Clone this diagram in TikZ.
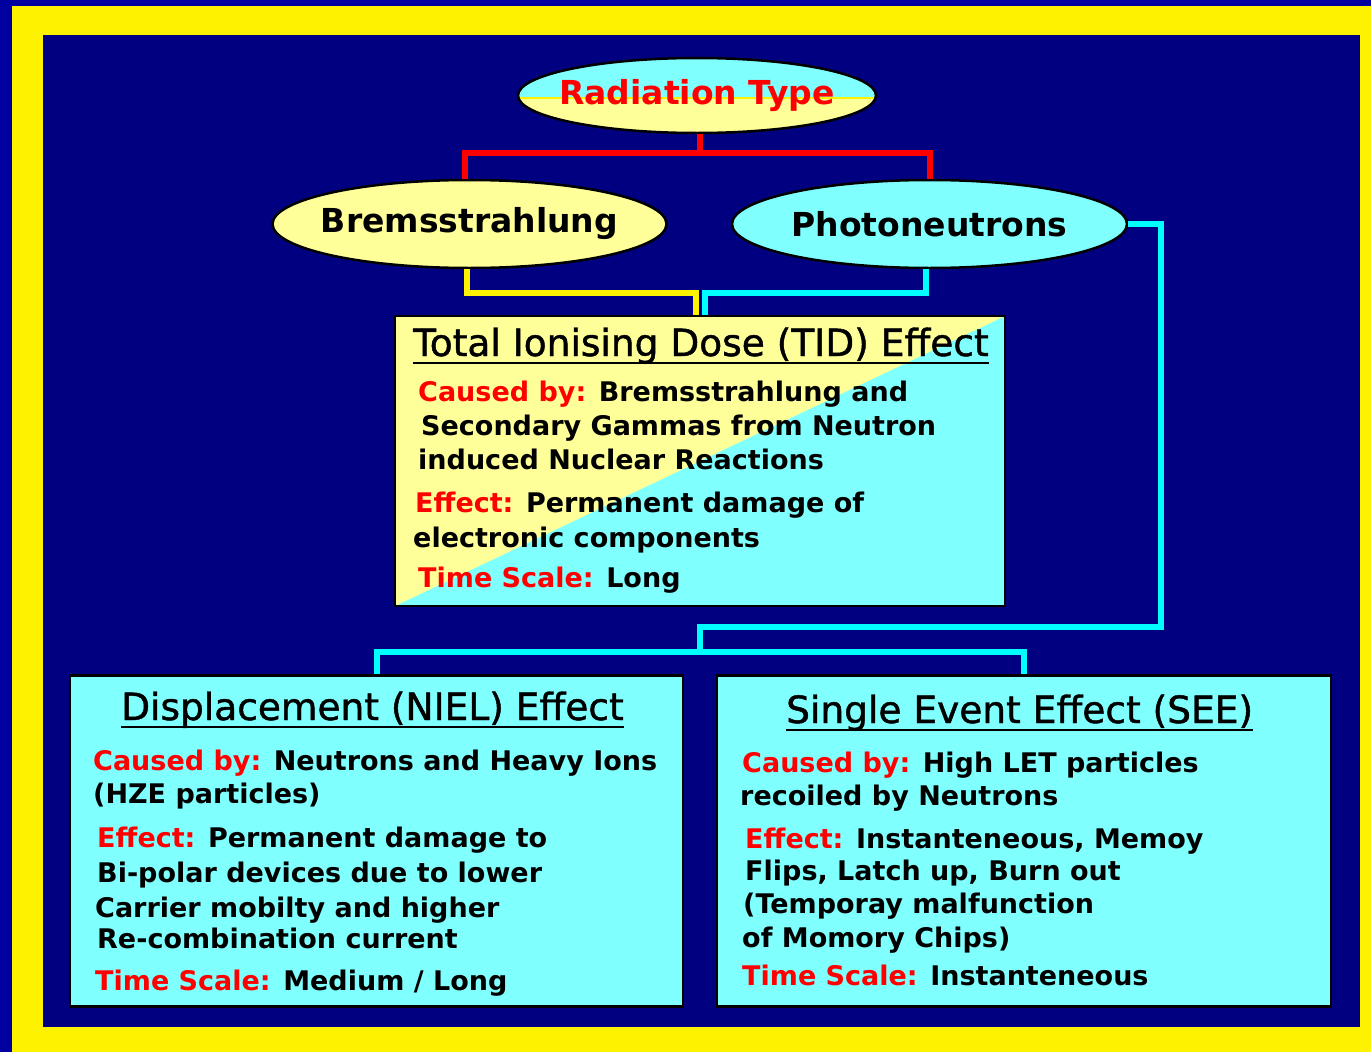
\documentclass[tikz,border=0pt]{standalone}
\usepackage{fontspec}
\usetikzlibrary{shapes.geometric}
\newfontfamily\djv{DejaVu Sans}
\newfontfamily\djt[FakeBold=1.2]{DejaVu Sans}
\definecolor{outerblue}{HTML}{0000A0}
\definecolor{navy}{HTML}{000080}
\definecolor{lyellow}{HTML}{FFFF99}
\definecolor{lcyan}{HTML}{80FFFF}
\definecolor{cyanline}{HTML}{00FFFF}
\definecolor{redline}{HTML}{FF0000}
\begin{document}
\begin{tikzpicture}[x=1pt,y=-1pt,
  ell/.style={ellipse, draw=black, line width=2.5pt, inner sep=0pt},
  ellab/.style={inner sep=0pt, font=\djv\bfseries\fontsize{33}{40}\selectfont},
  box/.style={rectangle, draw=black, line width=2.5pt, inner sep=0pt},
  ttl/.style={anchor=base west, inner sep=0pt, font=\djt\fontsize{37.5}{44}\selectfont},
  body/.style={anchor=base west, inner sep=0pt, font=\djv\bfseries\fontsize{27}{32}\selectfont},
  rl/.style={redline, line width=6pt},
  yl/.style={yellow, line width=6pt},
  cl/.style={cyanline, line width=6pt},
  ul/.style={black, line width=2.5pt}]
\useasboundingbox (0,0) rectangle (1371,1052);
% frame
\fill[outerblue] (0,0) rectangle (1371,1052);
\fill[yellow] (12,6) rectangle (1371,1052);
\fill[navy] (43,35) rectangle (1360,1027);

% ellipses
\node[ell, minimum width=358pt, minimum height=75pt, fill=lcyan,
  path picture={\fill[lyellow] ([yshift=-2.5pt]path picture bounding box.west) rectangle (path picture bounding box.south east);
  \draw[yellow, line width=1.5pt] ([yshift=-2.5pt]path picture bounding box.west) -- ([yshift=-2.5pt]path picture bounding box.east);}]
  (rad) at (697,95.5) {};
\node[ellab, text=redline] (radL) at (rad) {Radiation Type};
\node[ell, minimum width=394pt, minimum height=88pt, fill=lyellow] (brems) at (469.5,224) {};
\node[ellab] (bremsL) at (brems) {Bremsstrahlung};
\node[ell, minimum width=395pt, minimum height=88pt, fill=lcyan] (photo) at (929.5,224) {};
\node[ellab] (photoL) at (photo) {Photoneutrons};

% boxes
\node[box, minimum width=610pt, minimum height=290pt, fill=lcyan,
  path picture={\fill[lyellow] (path picture bounding box.south west) -- (path picture bounding box.north west) -- (path picture bounding box.north east) -- cycle;}]
  (tid) at (700,461) {};
\node[box, minimum width=613pt, minimum height=331pt, fill=lcyan] (niel) at (376.5,841) {};
\node[box, minimum width=614pt, minimum height=331pt, fill=lcyan] (see) at (1024,841) {};

% connectors
\coordinate (rj) at (0,153);
\coordinate (yj) at (0,293);
\coordinate (j1) at (1161,627);
\coordinate (j2) at (700,651.5);
\draw[rl] ([xshift=3pt]rad.south) -- ([xshift=3pt]rad.south |- rj);
\draw[rl] ([xshift=-4.5pt]brems.north) |- (photo.north |- rj) -- (photo.north);
\draw[yl] ([xshift=-2.5pt]brems.south) |- ([xshift=-4.5pt]tid.north |- yj) -- ([xshift=-4.5pt]tid.north);
\draw[cl] ([xshift=-3.5pt]photo.south) |- ([xshift=4.5pt]tid.north |- yj) -- ([xshift=4.5pt]tid.north);
\draw[cl] (photo.east) -| (j1) -| (j2);
\draw[cl] (niel.north) |- (j2) -| (see.north);

% TID text
\node[ttl] (tidT) at (413,356) {Total Ionising Dose (TID) Effect};
\draw[ul] ([yshift=-7pt]tidT.base west) -- ([yshift=-7pt]tidT.base east);
\node[body] (tid1) at (418,401) {\textcolor{redline}{Caused by:} Bremsstrahlung and};
\node[body] (tid2) at (421,435) {Secondary Gammas from Neutron};
\node[body] (tid3) at (418,469) {induced Nuclear Reactions};
\node[body] (tid4) at (415,512) {\textcolor{redline}{Effect:} Permanent damage of};
\node[body] (tid5) at (413,547) {electronic components};
\node[body] (tid6) at (418,587) {\textcolor{redline}{Time Scale:} Long};

% NIEL text
\node[ttl] (nielT) at (121,720) {Displacement (NIEL) Effect};
\draw[ul] ([yshift=-7pt]nielT.base west) -- ([yshift=-7pt]nielT.base east);
\node[body] (niel1) at (93,770) {\textcolor{redline}{Caused by:} Neutrons and Heavy Ions};
\node[body] (niel2) at (93,803) {(HZE particles)};
\node[body] (niel3) at (97,847) {\textcolor{redline}{Effect:} Permanent damage to};
\node[body] (niel4) at (97,882) {Bi-polar devices due to lower};
\node[body] (niel5) at (95,917) {Carrier mobilty and higher};
\node[body] (niel6) at (97,948) {Re-combination current};
\node[body] (niel7) at (95,990) {\textcolor{redline}{Time Scale:} Medium / Long};

% SEE text
\node[ttl] (seeT) at (786,723) {Single Event Effect (SEE)};
\draw[ul] ([yshift=-7pt]seeT.base west) -- ([yshift=-7pt]seeT.base east);
\node[body] (see1) at (742,772) {\textcolor{redline}{Caused by:} High LET particles};
\node[body] (see2) at (740,805) {recoiled by Neutrons};
\node[body] (see3) at (745,848) {\textcolor{redline}{Effect:} Instanteneous, Memoy};
\node[body] (see4) at (745,880) {Flips, Latch up, Burn out};
\node[body] (see5) at (743,913) {(Temporay malfunction};
\node[body] (see6) at (742,947) {of Momory Chips)};
\node[body] (see7) at (742,985) {\textcolor{redline}{Time Scale:} Instanteneous};
\end{tikzpicture}
\end{document}
